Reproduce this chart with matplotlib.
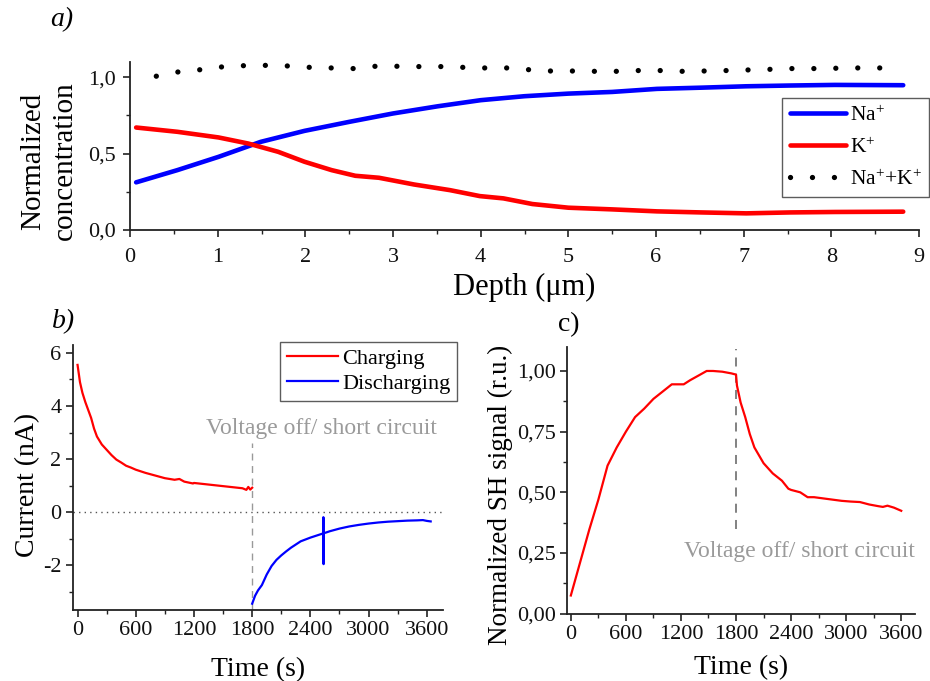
import matplotlib
matplotlib.use("Agg")
import matplotlib.pyplot as plt
from matplotlib.ticker import MultipleLocator, FuncFormatter

plt.rcParams['font.family'] = ['Liberation Serif', 'DejaVu Serif']
plt.rcParams['mathtext.fontset'] = 'custom'
plt.rcParams['mathtext.rm'] = 'Liberation Serif'
plt.rcParams['mathtext.it'] = 'Liberation Serif:italic'
plt.rcParams['axes.unicode_minus'] = False

# ---------------- Panel a data ----------------
depth_na = [0.07, 0.54, 1.01, 1.49, 1.99, 2.5, 3.0, 3.51, 4.0, 4.5, 5.0, 5.5, 6.01, 6.52, 7.03, 7.53, 8.04, 8.82]
conc_na = [0.312, 0.392, 0.479, 0.577, 0.649, 0.708, 0.763, 0.81, 0.85, 0.876, 0.893, 0.904, 0.924, 0.932, 0.941, 0.946, 0.95, 0.948]

depth_k = [0.07, 0.54, 1.01, 1.35, 1.69, 1.99, 2.3, 2.57, 2.84, 3.24, 3.65, 3.99, 4.26, 4.59, 5.0, 5.5, 6.01, 6.52, 7.03, 7.53, 8.04, 8.82]
conc_k = [0.671, 0.643, 0.606, 0.566, 0.512, 0.447, 0.392, 0.355, 0.342, 0.298, 0.261, 0.222, 0.207, 0.17, 0.146, 0.135, 0.122, 0.115, 0.109, 0.115, 0.118, 0.12]

depth_sum = [0.3, 0.55, 0.81, 1.05, 1.3, 1.55, 1.8, 2.05, 2.3, 2.55, 2.8, 3.05, 3.3, 3.55, 3.8, 4.04, 4.3, 4.54, 4.8,
             5.05, 5.3, 5.55, 5.8, 6.05, 6.3, 6.55, 6.8, 7.05, 7.3, 7.54, 7.8, 8.04, 8.3, 8.55, 8.8]
conc_sum = [1.007, 1.035, 1.05, 1.068, 1.076, 1.078, 1.074, 1.065, 1.061, 1.057, 1.072, 1.072, 1.07, 1.07, 1.065, 1.061,
            1.061, 1.05, 1.041, 1.041, 1.039, 1.039, 1.044, 1.044, 1.039, 1.041, 1.044, 1.048, 1.052, 1.057, 1.057,
            1.059, 1.061, 1.061, 1.065]

# ---------------- Panel b data ----------------
t_chg = [0, 25, 50, 80, 110, 140, 170, 200, 250, 300, 350, 400, 450, 500, 550, 600, 700, 800, 880, 900, 1000,
         1050, 1100, 1190, 1200, 1300, 1400, 1500, 1600, 1700, 1740, 1760, 1780, 1800]
i_chg = [5.55, 4.9, 4.5, 4.15, 3.85, 3.55, 3.15, 2.85, 2.55, 2.35, 2.15, 1.98, 1.87, 1.75, 1.68, 1.6, 1.48, 1.38,
         1.3, 1.28, 1.22, 1.25, 1.15, 1.08, 1.1, 1.06, 1.02, 0.98, 0.94, 0.9, 0.84, 0.95, 0.85, 0.92]

t_dis = [1800, 1830, 1860, 1900, 1950, 2000, 2050, 2100, 2150, 2200, 2250, 2300, 2350, 2400, 2450, 2500, 2533, 2534,
         2536, 2538, 2560, 2600, 2700, 2800, 2900, 3000, 3100, 3200, 3300, 3400, 3500, 3560, 3600, 3640]
i_dis = [-3.45, -3.15, -2.95, -2.75, -2.35, -2.03, -1.8, -1.63, -1.48, -1.34, -1.22, -1.1, -1.03, -0.96, -0.9, -0.84,
         -0.8, -0.19, -1.96, -0.79, -0.77, -0.72, -0.62, -0.54, -0.48, -0.43, -0.39, -0.36, -0.34, -0.32, -0.31,
         -0.3, -0.33, -0.35]

# ---------------- Panel c data ----------------
t_sh = [0, 100, 200, 300, 400, 500, 600, 700, 800, 900, 1000, 1100, 1150, 1230, 1300, 1400, 1480, 1550, 1650, 1750,
        1800, 1810, 1850, 1900, 1950, 2000, 2100, 2200, 2300, 2370, 2400, 2500, 2580, 2650, 2750, 2850, 2950, 3050,
        3150, 3250, 3350, 3400, 3450, 3520, 3600]
sh = [0.075, 0.21, 0.345, 0.47, 0.61, 0.685, 0.75, 0.81, 0.845, 0.885, 0.915, 0.945, 0.945, 0.945, 0.962, 0.983,
      1.0, 1.0, 0.997, 0.99, 0.985, 0.94, 0.87, 0.81, 0.74, 0.685, 0.62, 0.578, 0.548, 0.515, 0.51, 0.5, 0.48, 0.48,
      0.475, 0.47, 0.465, 0.462, 0.46, 0.45, 0.443, 0.44, 0.445, 0.437, 0.424]

x_ticks_time = [0, 600, 1200, 1800, 2400, 3000, 3600]

SPINE = '#222222'
GRAYTXT = '#9a9a9a'


def comma_fmt(decimals):
    return FuncFormatter(lambda v, p: f"{v:.{decimals}f}".replace('.', ','))


def style_axes(ax, labelsize, pad=3):
    for s in ['top', 'right']:
        ax.spines[s].set_visible(False)
    for s in ['left', 'bottom']:
        ax.spines[s].set_color(SPINE)
        ax.spines[s].set_linewidth(1.3)
    ax.tick_params(which='major', direction='out', length=5, width=1.2, color=SPINE,
                   labelsize=labelsize, labelcolor='#111111', pad=pad)
    ax.tick_params(which='minor', direction='out', length=3, width=1.0, color=SPINE)


fig = plt.figure(figsize=(9.3, 6.81), dpi=100)

# ---------------- Panel a ----------------
axa = fig.add_axes([130 / 930, 1 - 230 / 681, 789 / 930, 168 / 681])
axa.plot(depth_na, conc_na, color='#0000ff', lw=3.3, label='Na$^{+}$', solid_capstyle='round')
axa.plot(depth_k, conc_k, color='#ff0000', lw=3.3, label='K$^{+}$', solid_capstyle='round')
axa.plot(depth_sum, conc_sum, color='black', lw=3.8, linestyle=(0, (0.01, 4.15)), dash_capstyle='round',
         label='Na$^{+}$+K$^{+}$')
axa.set_xlim(0, 9)
axa.set_ylim(0, 1.1)
axa.xaxis.set_major_locator(MultipleLocator(1))
axa.xaxis.set_minor_locator(MultipleLocator(0.5))
axa.yaxis.set_major_locator(MultipleLocator(0.5))
axa.yaxis.set_minor_locator(MultipleLocator(0.25))
axa.yaxis.set_major_formatter(comma_fmt(1))
style_axes(axa, 16, pad=5)
axa.tick_params(axis='x', which='major', pad=8)
axa.set_xlabel('Depth (μm)', fontsize=22, labelpad=4)
axa.set_ylabel('Normalized\nconcentration', fontsize=21, linespacing=1.3)
axa.yaxis.set_label_coords(-0.066, 0.41)
leg = axa.legend(loc='upper left', bbox_to_anchor=(782 / 930, 1 - 98 / 681), bbox_transform=fig.transFigure,
                 fontsize=15.5, frameon=True, fancybox=False, edgecolor='#333333', handlelength=2.6,
                 handletextpad=0.2, borderpad=0.35, labelspacing=0.55, borderaxespad=0)
leg.get_frame().set_linewidth(1.0)
fig.text(50 / 930, 1 - 20 / 681, 'a)', fontsize=20, style='italic', va='center', ha='left')

# ---------------- Panel b ----------------
axb = fig.add_axes([72.7 / 930, 1 - 610.3 / 681, 370.6 / 930, 265.3 / 681])
axb.axhline(0, color='#555555', lw=1.0, linestyle=(0, (1, 3)))
axb.plot([1800, 1800], [-3.7, 2.6], color='#999999', lw=1.0, linestyle=(0, (5, 4)))
axb.plot(t_chg, i_chg, color='#ff0000', lw=1.6, label='Charging')
axb.plot(t_dis, i_dis, color='#0000ff', lw=1.6, label='Discharging')
axb.set_xlim(-50, 3770)
axb.set_ylim(-3.7, 6.3)
axb.set_xticks(x_ticks_time)
axb.xaxis.set_minor_locator(MultipleLocator(300))
axb.yaxis.set_major_locator(MultipleLocator(2))
axb.yaxis.set_minor_locator(MultipleLocator(1))
style_axes(axb, 16)
axb.set_xlabel('Time (s)', fontsize=20, labelpad=12)
axb.set_ylabel('Current (nA)', fontsize=20)
axb.yaxis.set_label_coords(-0.088, 0.472)
axb.text(0.983, 0.687, 'Voltage off/ short circuit', transform=axb.transAxes, fontsize=17, color=GRAYTXT,
         ha='right', va='center')
legb = axb.legend(loc='upper left', bbox_to_anchor=(280 / 930, 1 - 342 / 681), bbox_transform=fig.transFigure,
                  fontsize=16, frameon=True, fancybox=False, edgecolor='#333333', handlelength=2.3,
                  handletextpad=0.2, borderpad=0.3, labelspacing=0.2, borderaxespad=0)
legb.get_frame().set_linewidth(1.0)
fig.text(52 / 930, 1 - 322 / 681, 'b)', fontsize=20, style='italic', va='center', ha='left')

# ---------------- Panel c ----------------
axc = fig.add_axes([566.7 / 930, 1 - 613.7 / 681, 348.3 / 930, 267 / 681])
axc.plot([1800, 1800], [0.35, 1.09], color='#777777', lw=1.3, linestyle=(0, (5, 4)))
axc.plot(t_sh, sh, color='#ff0000', lw=1.6)
axc.set_xlim(-45, 3750)
axc.set_ylim(0, 1.1)
axc.set_xticks(x_ticks_time)
axc.xaxis.set_minor_locator(MultipleLocator(300))
axc.yaxis.set_major_locator(MultipleLocator(0.25))
axc.yaxis.set_minor_locator(MultipleLocator(0.125))
axc.yaxis.set_major_formatter(comma_fmt(2))
style_axes(axc, 16)
axc.set_xlabel('Time (s)', fontsize=20, labelpad=8)
axc.set_ylabel('Normalized SH signal (r.u.)', fontsize=19.5)
axc.yaxis.set_label_coords(-0.154, 0.446)
axc.text(1.0, 0.232, 'Voltage off/ short circuit', transform=axc.transAxes, fontsize=17, color=GRAYTXT,
         ha='right', va='center')
fig.text(558 / 930, 1 - 325 / 681, 'c)', fontsize=20, va='center', ha='left')

fig.savefig('out.png', dpi=100)
